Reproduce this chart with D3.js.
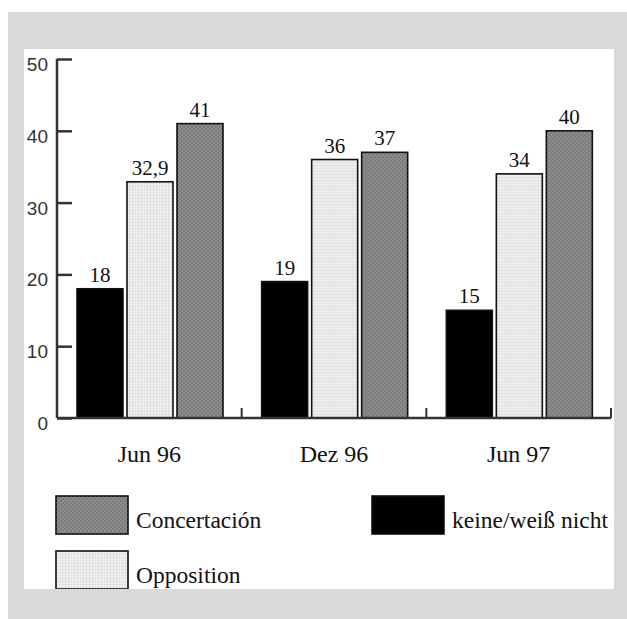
<!DOCTYPE html>
<html>
<head>
<meta charset="utf-8">
<script src="https://cdn.jsdelivr.net/npm/d3@7"></script>
<style>
  body { margin: 0; background: #fff; }
  svg { display: block; }
  .serif { font-family: "Liberation Serif", "Times New Roman", serif; }
</style>
</head>
<body>
<div id="chart"></div>
<script>
// data
const categories = ["Jun 96", "Dez 96", "Jun 97"];
const seriesNames = ["keine/weiß nicht", "Opposition", "Concertación"];
const keineValues = [18, 19, 15];
const oppositionValues = [32.9, 36, 34];
const concertacionValues = [41, 37, 40];
const yTicks = [0, 10, 20, 30, 40, 50];

const width = 627, height = 619;
const panel = {x: 24, y: 49, w: 590, h: 540};

let svg = d3.select("#chart").append("svg")
  .attr("width", width)
  .attr("height", height);

/* patterns for the two screened bars */
let defs = svg.append("defs");

let light = defs.append("pattern")
  .attr("id", "lightDots")
  .attr("width", 3).attr("height", 3)
  .attr("patternUnits", "userSpaceOnUse");
light.append("rect").attr("width", 3).attr("height", 3).attr("fill", "#ececec");
light.append("rect").attr("width", 1).attr("height", 1).attr("fill", "#cfcfcf");

let dark = defs.append("pattern")
  .attr("id", "darkHatch")
  .attr("width", 4).attr("height", 4)
  .attr("patternUnits", "userSpaceOnUse");
dark.append("rect").attr("width", 4).attr("height", 4).attr("fill", "#8e8e8e");
dark.append("rect").attr("width", 2).attr("height", 2).attr("fill", "#7a7a7a");
dark.append("rect").attr("x", 2).attr("y", 2).attr("width", 2).attr("height", 2).attr("fill", "#7a7a7a");

defs.append("clipPath").attr("id", "panelClip")
  .append("rect")
  .attr("x", panel.x).attr("y", panel.y)
  .attr("width", panel.w).attr("height", panel.h);

function fillBySeries(name) {
  switch (name) {
    case "keine/weiß nicht":
      return "#000";
    case "Opposition":
      return "url(#lightDots)";
    case "Concertación":
      return "url(#darkHatch)";
  }
}

/* grey frame + white panel */
svg.append("rect")
  .attr("x", 8).attr("y", 12)
  .attr("width", width - 8).attr("height", height - 12)
  .attr("fill", "#d9d9d9");

svg.append("rect")
  .attr("x", panel.x).attr("y", panel.y)
  .attr("width", panel.w).attr("height", panel.h)
  .attr("fill", "#fff");

let g = svg.append("g").attr("clip-path", "url(#panelClip)");

/* scales */
let x0 = d3.scaleBand()
  .domain(categories)
  .range([57, 611])
  .paddingInner(0).paddingOuter(0);

let x1 = d3.scaleBand()
  .domain(seriesNames)
  .range([20, 166])
  .paddingInner(0.08);

let y = d3.scaleLinear()
  .domain([0, 50])
  .range([418, 59]);

const valuesBySeries = [keineValues, oppositionValues, concertacionValues];
let rows = categories.map(function(c, i) {
  return {
    category: c,
    bars: seriesNames.map(function(s, j) {
      return {series: s, value: valuesBySeries[j][i]};
    })
  };
});

let groups = g.selectAll("g.group")
  .data(rows)
  .enter().append("g")
  .attr("class", "group")
  .attr("transform", function(d) { return "translate(" + x0(d.category) + ",0)"; });

groups.selectAll("rect")
  .data(function(d) { return d.bars; })
  .enter().append("rect")
  .attr("x", function(d) { return x1(d.series); })
  .attr("y", function(d) { return y(d.value); })
  .attr("width", x1.bandwidth())
  .attr("height", function(d) { return y(0) - y(d.value); })
  .attr("fill", function(d) { return fillBySeries(d.series); })
  .attr("stroke", "#111")
  .attr("stroke-width", 1.6);

groups.selectAll("text.value")
  .data(function(d) { return d.bars; })
  .enter().append("text")
  .attr("class", "value serif")
  .attr("x", function(d) { return x1(d.series) + x1.bandwidth() / 2; })
  .attr("y", function(d) { return y(d.value) - 7; })
  .attr("text-anchor", "middle")
  .attr("font-size", 21)
  .attr("fill", "#111")
  .text(function(d) { return String(d.value).replace(".", ","); });

/* y axis */
let yAxis = g.append("g")
  .attr("transform", "translate(57,0)")
  .call(d3.axisRight(y).tickValues(yTicks).tickSize(15).tickFormat(""));
yAxis.select(".domain").attr("d", "M0," + y(50) + "V" + y(0));
yAxis.selectAll("line, path").attr("stroke", "#333").attr("stroke-width", 2.5);

g.selectAll("text.ytick")
  .data(yTicks)
  .enter().append("text")
  .attr("class", "ytick")
  .attr("x", 48)
  .attr("y", function(d) { return y(d) + 12; })
  .attr("text-anchor", "end")
  .attr("font-family", "Liberation Sans")
  .attr("font-size", 19)
  .attr("fill", "#333")
  .text(function(d) { return d; });

/* x axis: baseline with small upward ticks between groups */
let xAxis = g.append("g")
  .attr("transform", "translate(0," + y(0) + ")");
xAxis.append("line")
  .attr("x1", 57).attr("x2", 611)
  .attr("stroke", "#333").attr("stroke-width", 2.5);
xAxis.selectAll("line.sep")
  .data(categories)
  .enter().append("line")
  .attr("class", "sep")
  .attr("x1", function(d) { return x0(d) + x0.bandwidth(); })
  .attr("x2", function(d) { return x0(d) + x0.bandwidth(); })
  .attr("y1", 0).attr("y2", -10)
  .attr("stroke", "#333").attr("stroke-width", 2);

xAxis.selectAll("text")
  .data(categories)
  .enter().append("text")
  .attr("class", "serif")
  .attr("x", function(d) { return x0(d) + x0.bandwidth() / 2; })
  .attr("y", 44)
  .attr("text-anchor", "middle")
  .attr("font-size", 24)
  .attr("fill", "#111")
  .text(function(d) { return d; });

/* legend */
let legendPos = {
  "Concertación": [56, 496],
  "keine/weiß nicht": [372, 496],
  "Opposition": [56, 551]
};

let legendG = g.selectAll(".legend")
  .data(seriesNames)
  .enter().append("g")
  .attr("class", "legend")
  .attr("transform", function(d) { return "translate(" + legendPos[d][0] + "," + legendPos[d][1] + ")"; });

legendG.append("rect")
  .attr("width", 72)
  .attr("height", 38)
  .attr("fill", function(d) { return fillBySeries(d); })
  .attr("stroke", "#111")
  .attr("stroke-width", 1.6);

legendG.append("text")
  .attr("class", "serif")
  .attr("x", 80)
  .attr("y", 32)
  .attr("font-size", 23.5)
  .attr("fill", "#111")
  .text(function(d) { return d; });
</script>
</body>
</html>
